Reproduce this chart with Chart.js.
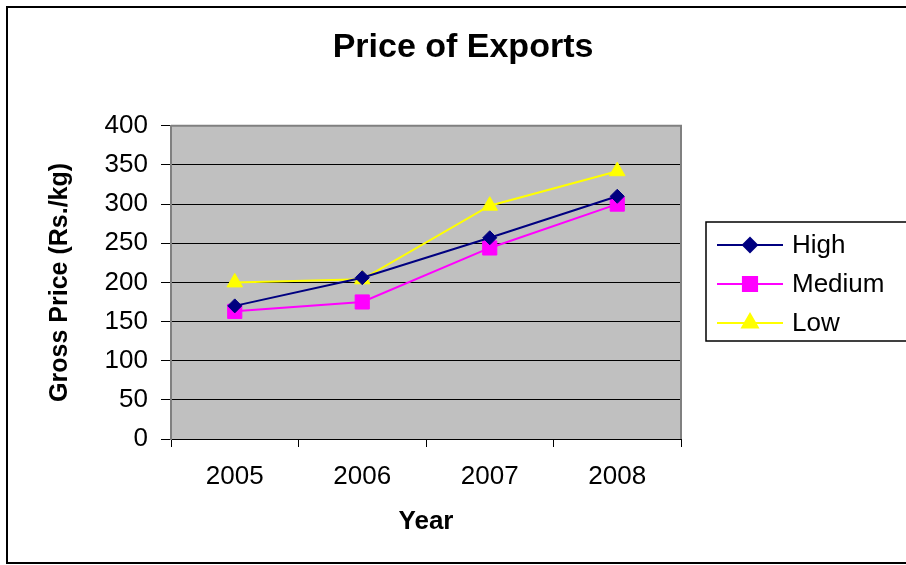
<!DOCTYPE html>
<html lang="en">
<head>
<meta charset="UTF-8">
<title>Price of Exports</title>
<script src="https://cdn.jsdelivr.net/npm/chart.js"></script>
<style>
  html, body { margin: 0; padding: 0; background: #fff; }
</style>
</head>
<body>
<canvas id="exportChart" width="906" height="565"></canvas>
<script>
const years = ['2005', '2006', '2007', '2008'];
const highPrices = [170, 206, 257, 310];
const mediumPrices = [163, 175, 244, 300];
const lowPrices = [200, 204, 298, 342];
const yMin = 0, yMax = 400, yStep = 50;

const FONT = 'Liberation Sans, Arial, sans-serif';

// page frame, plot area fill and border
const frame = {
    id: 'frame',
    beforeDraw(chart) {
        const ctx = chart.ctx, a = chart.chartArea;
        ctx.save();
        ctx.fillStyle = '#fff';
        ctx.fillRect(0, 0, chart.width, chart.height);
        ctx.strokeStyle = '#000';
        ctx.lineWidth = 2;
        ctx.strokeRect(7, 7, chart.width + 20, chart.height - 9);
        ctx.fillStyle = '#c0c0c0';
        ctx.fillRect(a.left, a.top, a.right - a.left, a.bottom - a.top);
        ctx.restore();
    },
    beforeDatasetsDraw(chart) {
        const ctx = chart.ctx, a = chart.chartArea;
        ctx.save();
        ctx.strokeStyle = '#808080';
        ctx.lineWidth = 2;
        ctx.beginPath();
        ctx.moveTo(a.left, a.top);
        ctx.lineTo(a.right, a.top);
        ctx.lineTo(a.right, a.bottom);
        ctx.stroke();
        ctx.restore();
    }
};

// legend with line + marker, kept in its own layout box on the right
const boxLegend = {
    id: 'boxLegend',
    start(chart) {
        const box = {
            position: 'right', weight: 0, fullSize: false, options: {},
            left: 0, top: 0, right: 0, bottom: 0, width: 0, height: 0,
            isHorizontal() { return false; },
            update(maxWidth, maxHeight) { this.width = 225; this.height = maxHeight; },
            draw() {
                const ctx = chart.ctx;
                const x0 = this.left + 25, y0 = 222;
                ctx.save();
                ctx.fillStyle = '#fff';
                ctx.strokeStyle = '#000';
                ctx.lineWidth = 1.5;
                ctx.fillRect(x0, y0, 230, 119);
                ctx.strokeRect(x0, y0, 230, 119);
                ctx.font = '26px ' + FONT;
                ctx.textBaseline = 'middle';
                chart.data.datasets.forEach((ds, i) => {
                    const y = y0 + 23 + i * 39;
                    ctx.strokeStyle = ds.borderColor;
                    ctx.lineWidth = ds.borderWidth;
                    ctx.beginPath();
                    ctx.moveTo(x0 + 11, y);
                    ctx.lineTo(x0 + 77, y);
                    ctx.stroke();
                    ctx.fillStyle = ds.pointBackgroundColor;
                    ctx.strokeStyle = ds.pointBorderColor;
                    Chart.helpers.drawPoint(ctx, {
                        pointStyle: ds.pointStyle, radius: ds.pointRadius,
                        rotation: 0, borderWidth: 1
                    }, x0 + 44, y);
                    ctx.fillStyle = '#000';
                    ctx.fillText(ds.label, x0 + 86, y + 1);
                });
                ctx.restore();
            }
        };
        chart.legendSpace = box;
        Chart.layouts.addBox(chart, box);
    },
    stop(chart) {
        Chart.layouts.removeBox(chart, chart.legendSpace);
    }
};

function series(label, data, color, style, radius) {
    return {
        label, data,
        borderColor: color, borderWidth: 2,
        pointStyle: style, pointRadius: radius, pointHoverRadius: radius,
        pointBackgroundColor: color, pointBorderColor: color, pointBorderWidth: 1,
        tension: 0, fill: false
    };
}

new Chart(document.getElementById('exportChart'), {
    type: 'line',
    data: {
        labels: years,
        datasets: [
            series('High', highPrices, '#000080', 'rectRot', 7),
            series('Medium', mediumPrices, '#ff00ff', 'rect', 10),
            series('Low', lowPrices, '#ffff00', 'triangle', 9)
        ]
    },
    options: {
        responsive: false,
        animation: false,
        layout: { padding: { left: 20, right: 0, top: 8, bottom: 8 } },
        plugins: {
            legend: { display: false },
            tooltip: { enabled: false },
            title: {
                display: true,
                text: 'Price of Exports',
                color: '#000',
                font: { family: FONT, size: 34, weight: 'bold' },
                padding: { top: 19, bottom: 58 }
            }
        },
        scales: {
            x: {
                offset: true,
                grid: { offset: true, drawOnChartArea: false, drawTicks: true, tickLength: 8, tickColor: '#000' },
                border: { display: true, color: '#000', width: 1 },
                ticks: { color: '#000', padding: 14, font: { family: FONT, size: 26 } },
                title: {
                    display: true, text: 'Year', color: '#000',
                    font: { family: FONT, size: 26, weight: 'bold' },
                    padding: { top: 0, bottom: 20 }
                },
                afterFit(s) { s.height = 118; }
            },
            y: {
                min: yMin, max: yMax,
                grid: { color: '#000', lineWidth: 1, drawTicks: true, tickLength: 10, tickColor: '#000' },
                border: { display: true, color: '#808080', width: 2 },
                ticks: { stepSize: yStep, color: '#000', padding: 13, font: { family: FONT, size: 26 } },
                title: {
                    display: true, text: 'Gross Price (Rs./kg)', color: '#000',
                    font: { family: FONT, size: 25, weight: 'bold' },
                    padding: { top: 25, bottom: 0 }
                },
                afterFit(s) { s.width = 151; }
            }
        }
    },
    plugins: [frame, boxLegend]
});
</script>
</body>
</html>
